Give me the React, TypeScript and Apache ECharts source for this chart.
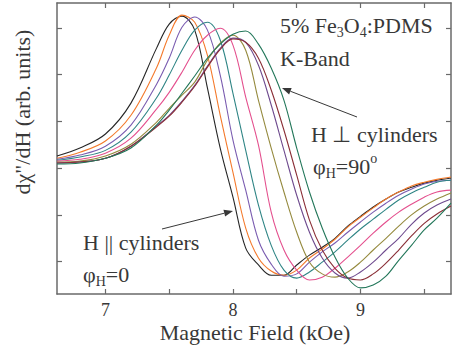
import React, { useEffect, useRef } from 'react';
import * as echarts from 'echarts';

// Magnetic field grid (kOe)
const fields = [6.62, 6.8, 7.0, 7.2, 7.4, 7.5, 7.6, 7.7, 7.8, 7.9, 8.0, 8.1, 8.2, 8.3, 8.4, 8.5, 8.6, 8.7, 8.8, 8.9, 9.0, 9.1, 9.2, 9.3, 9.4, 9.5, 9.6, 9.71];

// dχ''/dH (arb. units) for each field-angle curve, from H || cylinders to H ⊥ cylinders
const curveBlack = [0.26, 0.43, 0.73, 1.39, 2.56, 3.08, 3.25, 2.95, 1.71, 0.43, -0.62, -1.71, -2.07, -2.29, -2.29, -2.07, -1.86, -1.69, -1.50, -1.24, -1.03, -0.83, -0.66, -0.51, -0.41, -0.32, -0.26, -0.21];
const curveOrange = [0.21, 0.34, 0.58, 1.13, 2.14, 2.84, 3.27, 3.12, 2.41, 1.13, -0.09, -1.28, -1.92, -2.20, -2.29, -2.18, -1.92, -1.73, -1.52, -1.26, -1.05, -0.85, -0.66, -0.51, -0.38, -0.30, -0.24, -0.19];
const curveViolet = [0.19, 0.28, 0.47, 0.92, 1.79, 2.35, 3.01, 3.23, 2.95, 1.99, 0.60, -0.47, -1.54, -2.05, -2.31, -2.26, -2.01, -1.79, -1.60, -1.37, -1.15, -0.94, -0.75, -0.58, -0.45, -0.34, -0.28, -0.26];
const curveTeal = [0.17, 0.24, 0.38, 0.77, 1.50, 1.99, 2.52, 2.95, 3.12, 2.74, 1.60, 0.38, -0.79, -1.65, -2.18, -2.35, -2.22, -2.01, -1.79, -1.54, -1.30, -1.09, -0.88, -0.68, -0.53, -0.41, -0.30, -0.26];
const curvePink = [0.15, 0.19, 0.32, 0.64, 1.26, 1.62, 2.05, 2.52, 2.84, 2.99, 2.63, 1.52, 0.49, -0.94, -1.75, -2.18, -2.39, -2.33, -2.14, -1.90, -1.65, -1.39, -1.15, -0.94, -0.77, -0.62, -0.51, -0.47];
const curveOlive = [0.13, 0.15, 0.26, 0.51, 0.98, 1.28, 1.56, 1.84, 2.31, 2.67, 2.84, 2.52, 1.45, 0.43, -0.51, -1.37, -2.01, -2.26, -2.33, -2.22, -2.01, -1.75, -1.50, -1.24, -1.00, -0.81, -0.66, -0.53];
const curvePurple = [0.11, 0.13, 0.21, 0.47, 0.90, 1.13, 1.43, 1.77, 2.18, 2.56, 2.78, 2.69, 2.20, 1.35, 0.38, -0.58, -1.37, -1.92, -2.24, -2.35, -2.22, -2.01, -1.75, -1.50, -1.20, -0.96, -0.79, -0.66];
const curveMaroon = [0.11, 0.13, 0.21, 0.47, 0.88, 1.11, 1.41, 1.75, 2.16, 2.54, 2.76, 2.69, 2.35, 1.67, 0.81, -0.15, -1.11, -1.75, -2.14, -2.35, -2.39, -2.26, -2.03, -1.75, -1.45, -1.18, -0.98, -0.81];
const curveGreen = [0.09, 0.11, 0.21, 0.43, 0.92, 1.24, 1.60, 1.97, 2.35, 2.65, 2.86, 2.93, 2.65, 2.14, 1.45, 0.43, -0.51, -1.28, -1.90, -2.35, -2.56, -2.50, -2.31, -1.97, -1.65, -1.32, -1.07, -0.75];

const curves = [curveBlack, curveOrange, curveViolet, curveTeal, curvePink, curveOlive, curvePurple, curveMaroon, curveGreen];
const curveColors = ['#262626', '#f47a2c', '#7a5cb0', '#2f8585', '#e4508e', '#958a3e', '#6e4a8e', '#8a2e36', '#23775a'];

const xMajorTicks = [7, 8, 9];
const xTicks = [7, 7.5, 8, 8.5, 9, 9.5];
const yTicks = [-2, -1, 0, 1, 2, 3];

const serif = 'Liberation Serif, Times New Roman, serif';
const ink = '#383838';
const axisColor = '#6a6a6a';

const richStyles = {
  m: { fontSize: 22, fontFamily: serif, lineHeight: 29, fill: ink, color: ink },
  s: { fontSize: 14, fontFamily: serif, verticalAlign: 'bottom', fill: ink, color: ink },
  p: { fontSize: 14, fontFamily: serif, verticalAlign: 'top', fill: ink, color: ink },
};

function label(x: number, y: number, text: string) {
  return {
    type: 'text',
    x,
    y,
    style: {
      text,
      fill: ink,
      fontSize: 22,
      fontFamily: serif,
      align: 'left',
      verticalAlign: 'middle',
      textAlign: 'left',
      textVerticalAlign: 'middle',
      rich: richStyles,
    },
  };
}

function arrow(x1: number, y1: number, x2: number, y2: number) {
  const dx = x2 - x1;
  const dy = y2 - y1;
  const len = Math.sqrt(dx * dx + dy * dy);
  const ux = dx / len;
  const uy = dy / len;
  const hl = 9;
  const hw = 3.5;
  const bx = x2 - ux * hl;
  const by = y2 - uy * hl;
  return [
    { type: 'line', shape: { x1, y1, x2: bx, y2: by }, style: { stroke: ink, lineWidth: 1 } },
    {
      type: 'polygon',
      shape: { points: [[x2, y2], [bx - uy * hw, by + ux * hw], [bx + uy * hw, by - ux * hw]] },
      style: { fill: ink },
    },
  ];
}

export default function App() {
  const ref = useRef<HTMLDivElement>(null);
  useEffect(() => {
    if (!ref.current) return;
    const chart = echarts.init(ref.current, null, { renderer: 'svg' });
    const axisCommon = {
      type: 'value',
      splitLine: { show: false },
      axisLine: { show: true, onZero: false, lineStyle: { color: axisColor, width: 1.5 } },
    };
    chart.setOption({
      animation: false,
      backgroundColor: '#ffffff',
      grid: { left: 57, right: 1, top: 3, bottom: 54, containLabel: false, outerBoundsMode: 'none' },
      xAxis: [
        {
          ...axisCommon,
          position: 'bottom',
          min: 6.62,
          max: 9.71,
          axisTick: { show: true, inside: true, length: 5, customValues: xTicks, lineStyle: { color: axisColor, width: 1.2 } },
          axisLabel: { show: true, customValues: xMajorTicks, margin: 7, fontSize: 18, fontFamily: serif, color: ink },
        },
        {
          ...axisCommon,
          position: 'top',
          min: 6.62,
          max: 9.71,
          axisTick: { show: true, inside: true, length: 5, customValues: xTicks, lineStyle: { color: axisColor, width: 1.2 } },
          axisLabel: { show: false },
        },
      ],
      yAxis: [
        {
          ...axisCommon,
          position: 'left',
          min: -2.69,
          max: 3.53,
          axisTick: { show: true, inside: true, length: 5, customValues: yTicks, lineStyle: { color: axisColor, width: 1.2 } },
          axisLabel: { show: false },
        },
        {
          ...axisCommon,
          position: 'right',
          min: -2.69,
          max: 3.53,
          axisTick: { show: true, inside: true, length: 5, customValues: yTicks, lineStyle: { color: axisColor, width: 1.2 } },
          axisLabel: { show: false },
        },
      ],
      series: curves.map((c, i) => ({
        type: 'line',
        xAxisIndex: 0,
        yAxisIndex: 0,
        data: fields.map((f, j) => [f, c[j]]),
        smooth: 0.35,
        showSymbol: false,
        symbol: 'none',
        lineStyle: { color: curveColors[i], width: 1.1 },
        itemStyle: { color: curveColors[i] },
        z: 2 + i,
      })),
      graphic: [
        label(280, 25, '{m|5% Fe}{s|3}{m|O}{s|4}{m|:PDMS}'),
        label(280, 58, '{m|K-Band}'),
        label(311, 134, '{m|H ⊥ cylinders}'),
        label(313, 166, '{m|φ}{s|H}{m|=90}{p|o}'),
        label(83, 242, '{m|H || cylinders}'),
        label(83, 274, '{m|φ}{s|H}{m|=0}'),
        ...arrow(357, 117, 282, 88),
        ...arrow(162, 229, 233, 211),
        {
          type: 'text',
          x: 255,
          y: 332,
          style: {
            text: 'Magnetic Field (kOe)',
            fill: ink,
            fontSize: 22,
            fontFamily: serif,
            align: 'center',
            verticalAlign: 'middle',
            textAlign: 'center',
            textVerticalAlign: 'middle',
          },
        },
        {
          type: 'text',
          x: 22,
          y: 112,
          rotation: Math.PI / 2,
          style: {
            text: 'dχ"/dH (arb. units)',
            fill: ink,
            fontSize: 22,
            fontFamily: serif,
            align: 'center',
            verticalAlign: 'middle',
            textAlign: 'center',
            textVerticalAlign: 'middle',
          },
        },
      ],
    });
    return () => chart.dispose();
  }, []);
  return (
    <div
      ref={ref}
      style={{ position: 'fixed', left: 0, top: 0, width: 452, height: 348, background: '#fff' }}
    />
  );
}
